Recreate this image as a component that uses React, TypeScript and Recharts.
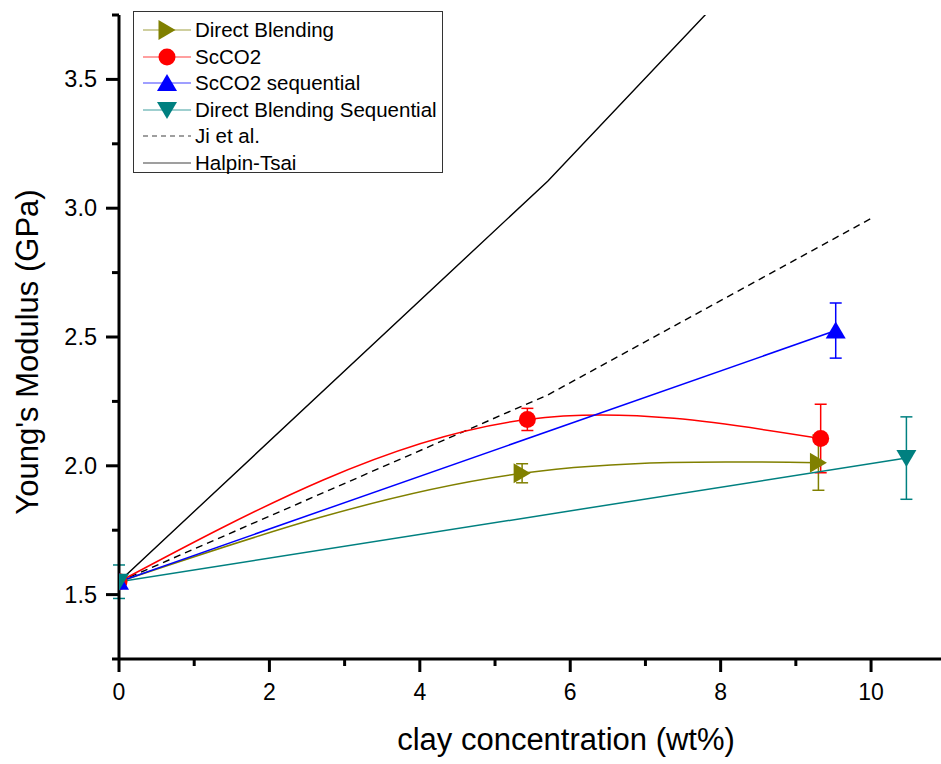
import React from 'react';
import { ComposedChart, Line, XAxis, YAxis, ErrorBar, Legend } from 'recharts';

// measured series (clay wt%, modulus GPa, error)
const blendX = [0, 5.36, 9.3];
const blendY = [1.55, 1.971, 2.012];
const blendErr = [null, 0.037, 0.107];

const scco2X = [0, 5.43, 9.33];
const scco2Y = [1.55, 2.18, 2.106];
const scco2Err = [null, 0.043, 0.133];

const seqX = [0, 9.53];
const seqY = [1.55, 2.525];
const seqErr = [null, 0.107];

const blendSeqX = [0, 10.47];
const blendSeqY = [1.55, 2.03];
const blendSeqErr = [0.065, 0.16];

// model predictions
const modelX = [0, 5.7, 10];
const jiY = [1.55, 2.275, 2.96];
const halpinY = [1.55, 3.105, 4.43];

const xTicks = [0, 1, 2, 3, 4, 5, 6, 7, 8, 9, 10];
const yTicks = [1.25, 1.5, 1.75, 2.0, 2.25, 2.5, 2.75, 3.0, 3.25, 3.5, 3.75];

const FONT = '"Liberation Sans", Arial, Helvetica, sans-serif';
const W = 941;
const H = 764;
const PLOT = { left: 119, top: 15, right: 941, bottom: 659 };

const rows = (xs: number[], ys: number[], errs?: (number | null)[]) =>
  xs.map((x, i) => ({ x, y: ys[i], err: errs ? errs[i] : null }));

// natural cubic spline in x (like Origin's spline connector)
const splineX = (context: any) => {
  let px: number[] = [];
  let py: number[] = [];
  return {
    areaStart() {},
    areaEnd() {},
    lineStart() {
      px = [];
      py = [];
    },
    point(x: number, y: number) {
      px.push(+x);
      py.push(+y);
    },
    lineEnd() {
      const n = px.length;
      if (!n) return;
      context.moveTo(px[0], py[0]);
      if (n < 3) {
        for (let i = 1; i < n; i++) context.lineTo(px[i], py[i]);
        return;
      }
      const h: number[] = [];
      const d: number[] = [];
      for (let i = 0; i < n - 1; i++) {
        h.push(px[i + 1] - px[i]);
        d.push((py[i + 1] - py[i]) / h[i]);
      }
      const M = new Array(n).fill(0);
      const cp: number[] = [];
      const rp: number[] = [];
      for (let i = 1; i < n - 1; i++) {
        const a = h[i - 1];
        const b = 2 * (h[i - 1] + h[i]);
        const c = h[i];
        const r = 6 * (d[i] - d[i - 1]);
        const prevC = i > 1 ? cp[i - 1] : 0;
        const prevR = i > 1 ? rp[i - 1] : 0;
        const den = b - (i > 1 ? a * prevC : 0);
        cp[i] = c / den;
        rp[i] = (r - (i > 1 ? a * prevR : 0)) / den;
      }
      for (let i = n - 2; i >= 1; i--) {
        M[i] = rp[i] - (i < n - 2 ? cp[i] * M[i + 1] : 0);
      }
      for (let i = 0; i < n - 1; i++) {
        const hh = h[i];
        const m0 = d[i] - (hh * (2 * M[i] + M[i + 1])) / 6;
        const m1 = d[i] + (hh * (M[i] + 2 * M[i + 1])) / 6;
        context.bezierCurveTo(
          px[i] + hh / 3,
          py[i] + (m0 * hh) / 3,
          px[i + 1] - hh / 3,
          py[i + 1] - (m1 * hh) / 3,
          px[i + 1],
          py[i + 1]
        );
      }
    },
  };
};

type Shape = 'right' | 'circle' | 'up' | 'down' | 'none';

const marker = (shape: Shape, cx: number, cy: number, color: string, clip?: string) => {
  if (shape === 'circle') return <circle cx={cx} cy={cy} r={8.5} fill={color} clipPath={clip} />;
  let pts = '';
  if (shape === 'right') pts = `${cx - 8.5},${cy - 10} ${cx + 8.5},${cy} ${cx - 8.5},${cy + 10}`;
  if (shape === 'up') pts = `${cx},${cy - 9} ${cx + 10},${cy + 8} ${cx - 10},${cy + 8}`;
  if (shape === 'down') pts = `${cx - 10},${cy - 8} ${cx + 10},${cy - 8} ${cx},${cy + 9}`;
  if (!pts) return null;
  return <polygon points={pts} fill={color} clipPath={clip} />;
};

const dotFor = (shape: Shape, color: string) => (p: any) => {
  const id = `clip-${shape}-${p.index}`;
  return (
    <g key={`dot-${shape}-${p.index}`}>
      <defs>
        <clipPath id={id}>
          <rect x={PLOT.left} y={PLOT.top} width={PLOT.right - PLOT.left} height={PLOT.bottom - PLOT.top} />
        </clipPath>
      </defs>
      {marker(shape, p.cx, p.cy, color, `url(#${id})`)}
    </g>
  );
};

const legendItems: { name: string; color: string; shape: Shape; dash?: string }[] = [
  { name: 'Direct Blending', color: '#808000', shape: 'right' },
  { name: 'ScCO2', color: '#ff0000', shape: 'circle' },
  { name: 'ScCO2 sequential', color: '#0000ff', shape: 'up' },
  { name: 'Direct Blending Sequential', color: '#008080', shape: 'down' },
  { name: 'Ji et al.', color: '#000000', shape: 'none', dash: '5 4' },
  { name: 'Halpin-Tsai', color: '#000000', shape: 'none' },
];

const LegendBox = () => (
  <div
    style={{
      border: '1.5px solid #333',
      background: '#fff',
      width: 310,
      height: 162,
      boxSizing: 'border-box',
      paddingTop: 5,
      fontFamily: FONT,
      fontSize: 20.5,
      color: '#000',
    }}
  >
    {legendItems.map((it) => (
      <div key={it.name} style={{ display: 'flex', alignItems: 'center', height: 26.5 }}>
        <svg width={60} height={24} style={{ marginLeft: 7, flex: 'none' }}>
          <line x1={2} x2={50} y1={12} y2={12} stroke={it.color} strokeWidth={1.2} strokeDasharray={it.dash} opacity={0.75} />
          {marker(it.shape, 26, 12, it.color)}
        </svg>
        <span style={{ marginLeft: -6, whiteSpace: 'nowrap' }}>{it.name}</span>
      </div>
    ))}
  </div>
);

const XTick = (props: any) => {
  const { x, y, payload } = props;
  const v = payload.value;
  const major = v % 2 === 0;
  return (
    <g>
      <line x1={x} x2={x} y1={y} y2={y + (major ? 13 : 7)} stroke="#000" strokeWidth={3} />
      {major && (
        <text x={x} y={y + 41} textAnchor="middle" fontSize={23} fontFamily={FONT} fill="#000">
          {v}
        </text>
      )}
    </g>
  );
};

const YTick = (props: any) => {
  const { x, y, payload } = props;
  const v = payload.value;
  const major = Math.abs(v * 2 - Math.round(v * 2)) < 1e-6;
  return (
    <g>
      <line x1={x} x2={x - (major ? 13 : 7)} y1={y} y2={y} stroke="#000" strokeWidth={3} />
      {major && (
        <text x={x - 22} y={y + 8} textAnchor="end" fontSize={23.5} fontFamily={FONT} fill="#000">
          {v.toFixed(1)}
        </text>
      )}
    </g>
  );
};

export default function App() {
  return (
    <div style={{ position: 'absolute', left: 0, top: 0, background: '#fff' }}>
      <ComposedChart width={W} height={H} margin={{ top: PLOT.top, right: W - PLOT.right, bottom: 0, left: 0 }}>
        <XAxis
          dataKey="x"
          type="number"
          domain={[0, 10.93]}
          ticks={xTicks}
          interval={0}
          allowDataOverflow
          height={H - PLOT.bottom}
          tickSize={0}
          tickMargin={0}
          tickLine={false}
          tick={XTick}
          axisLine={{ stroke: '#000', strokeWidth: 3 }}
          label={{
            content: () => (
              <text x={566} y={750} textAnchor="middle" fontSize={31} fontFamily={FONT} fill="#000">
                clay concentration (wt%)
              </text>
            ),
          }}
        />
        <YAxis
          type="number"
          domain={[1.25, 3.75]}
          ticks={yTicks}
          interval={0}
          allowDataOverflow
          width={PLOT.left}
          tickSize={0}
          tickMargin={0}
          tickLine={false}
          tick={YTick}
          axisLine={{ stroke: '#000', strokeWidth: 3 }}
          label={{
            content: () => (
              <text
                x={38}
                y={352}
                transform="rotate(-90, 38, 352)"
                textAnchor="middle"
                fontSize={31}
                fontFamily={FONT}
                fill="#000"
              >
                Young's Modulus (GPa)
              </text>
            ),
          }}
        />
        <Legend
          layout="vertical"
          align="center"
          verticalAlign="middle"
          content={() => <LegendBox />}
          wrapperStyle={{ left: 133, top: 11, width: 'auto', height: 'auto' }}
        />
        <Line
          data={rows(modelX, halpinY)}
          dataKey="y"
          name="Halpin-Tsai"
          type="linear"
          stroke="#000"
          strokeWidth={1.4}
          dot={false}
          activeDot={false}
          isAnimationActive={false}
        />
        <Line
          data={rows(modelX, jiY)}
          dataKey="y"
          name="Ji et al."
          type="linear"
          stroke="#000"
          strokeWidth={1.4}
          strokeDasharray="7 5"
          dot={false}
          activeDot={false}
          isAnimationActive={false}
        />
        <Line
          data={rows(blendX, blendY, blendErr)}
          dataKey="y"
          name="Direct Blending"
          type={splineX as any}
          stroke="#808000"
          strokeWidth={1.5}
          dot={dotFor('right', '#808000')}
          activeDot={false}
          isAnimationActive={false}
        >
          <ErrorBar dataKey="err" direction="y" width={6} stroke="#808000" strokeWidth={1.5} />
        </Line>
        <Line
          data={rows(scco2X, scco2Y, scco2Err)}
          dataKey="y"
          name="ScCO2"
          type={splineX as any}
          stroke="#ff0000"
          strokeWidth={1.5}
          dot={dotFor('circle', '#ff0000')}
          activeDot={false}
          isAnimationActive={false}
        >
          <ErrorBar dataKey="err" direction="y" width={6} stroke="#ff0000" strokeWidth={1.5} />
        </Line>
        <Line
          data={rows(seqX, seqY, seqErr)}
          dataKey="y"
          name="ScCO2 sequential"
          type="linear"
          stroke="#0000ff"
          strokeWidth={1.5}
          dot={dotFor('up', '#0000ff')}
          activeDot={false}
          isAnimationActive={false}
        >
          <ErrorBar dataKey="err" direction="y" width={6} stroke="#0000ff" strokeWidth={1.5} />
        </Line>
        <Line
          data={rows(blendSeqX, blendSeqY, blendSeqErr)}
          dataKey="y"
          name="Direct Blending Sequential"
          type="linear"
          stroke="#008080"
          strokeWidth={1.5}
          dot={dotFor('down', '#008080')}
          activeDot={false}
          isAnimationActive={false}
        >
          <ErrorBar dataKey="err" direction="y" width={6} stroke="#008080" strokeWidth={1.5} />
        </Line>
      </ComposedChart>
    </div>
  );
}
